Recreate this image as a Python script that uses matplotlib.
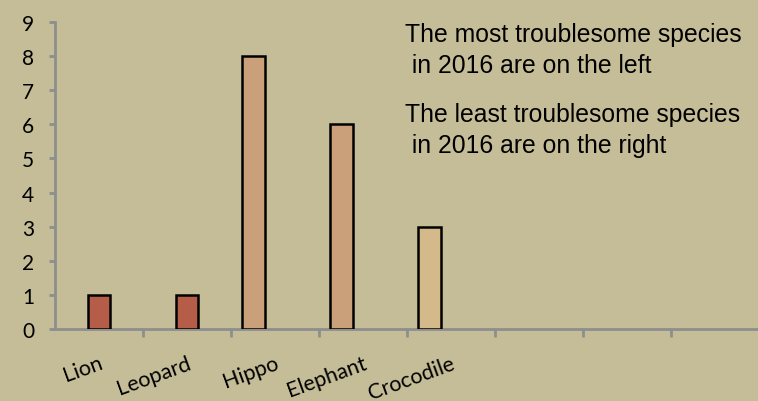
import numpy as np
import matplotlib.pyplot as plt

animals = ["Lion", "Leopard", "Hippo", "Elephant", "Crocodile", "", "", ""]
incidents = [1, 1, 8, 6, 3, 0, 0, 0]
bar_colors = ["#B65D4A", "#B65D4A", "#C9A07A", "#C9A07A", "#D4B98A",
              "none", "none", "none"]
notes = ["The most troublesome species", " in 2016 are on the left",
         "The least troublesome species", " in 2016 are on the right"]

# bars after the first two sit left of their category centre in the original
bar_shift = [0.0, 0.0, -0.24, -0.24, -0.24, 0.0, 0.0, 0.0]

bg = "#C5BD97"
grey = "#8E8E8E"

fig = plt.figure(figsize=(7.58, 4.02), dpi=100, facecolor=bg)
ax = fig.add_axes([55 / 758, 72 / 402, 704 / 758, 307 / 402])
ax.set_facecolor(bg)

x = np.arange(len(animals))
vals = np.array(incidents, dtype=float)
shown = vals > 0
ax.bar(x[shown] + np.array(bar_shift)[shown], vals[shown], width=0.26,
       color=[c for c, s in zip(bar_colors, shown) if s],
       edgecolor="black", linewidth=1.8, zorder=3)

ax.set_xlim(-0.5, len(animals) - 0.5)
ax.set_ylim(0, 9)
ax.set_yticks(range(10))

for side in ["top", "right"]:
    ax.spines[side].set_visible(False)
for side in ["left", "bottom"]:
    ax.spines[side].set_color(grey)
    ax.spines[side].set_linewidth(2)

ax.set_xticks(x)
ax.set_xticklabels(animals, rotation=20, ha="right", rotation_mode="anchor",
                   family="Lato", fontsize=15.5)
ax.tick_params(axis="x", which="major", length=0, pad=17)
ax.set_xticks(np.arange(0.5, len(animals) - 1, 1.0), minor=True)
ax.tick_params(axis="x", which="minor", length=6, width=2, color=grey)
ax.tick_params(axis="y", length=4, width=2, color=grey, pad=11)
for lab in ax.get_yticklabels():
    lab.set_family("Lato")
    lab.set_fontsize(15)

note_pos = [(405, 42), (405, 73), (405, 122), (405, 153)]
for txt, (px, py) in zip(notes, note_pos):
    fig.text(px / 758, 1 - py / 402, txt, family="Liberation Sans",
             fontsize=17.8, va="baseline", ha="left")

fig.savefig("out.png", dpi=100, facecolor=bg)
